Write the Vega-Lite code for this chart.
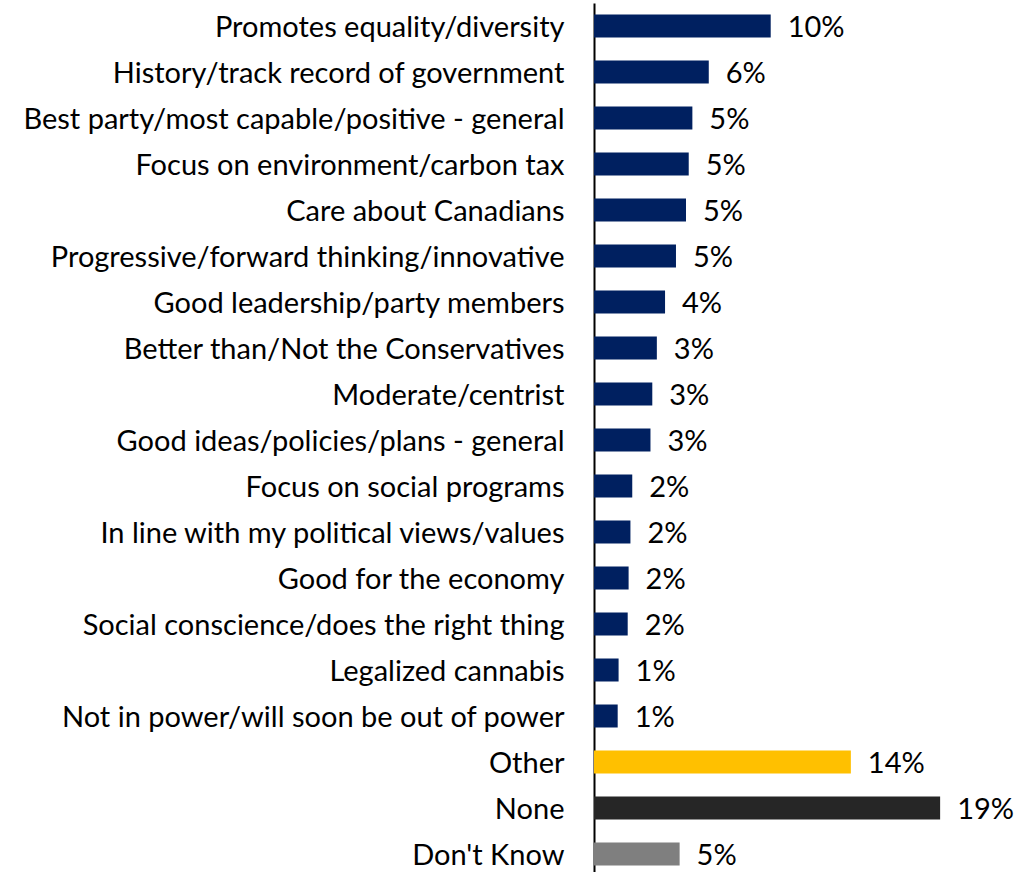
{
  "$schema": "https://vega.github.io/schema/vega-lite/v6.json",
  "width": 419,
  "height": 874,
  "autosize": {"type": "none"},
  "padding": {"left": 594, "top": 3, "right": 2, "bottom": 0},
  "background": "white",
  "config": {"view": {"stroke": null}, "font": "Lato"},
  "data": {"values": [
    {"cat": "Promotes equality/diversity", "v": 9.7, "label": "10%", "grp": "a"},
    {"cat": "History/track record of government", "v": 6.3, "label": "6%", "grp": "a"},
    {"cat": "Best party/most capable/positive - general", "v": 5.4, "label": "5%", "grp": "a"},
    {"cat": "Focus on environment/carbon tax", "v": 5.2, "label": "5%", "grp": "a"},
    {"cat": "Care about Canadians", "v": 5.05, "label": "5%", "grp": "a"},
    {"cat": "Progressive/forward thinking/innovative", "v": 4.5, "label": "5%", "grp": "a"},
    {"cat": "Good leadership/party members", "v": 3.9, "label": "4%", "grp": "a"},
    {"cat": "Better than/Not the Conservatives", "v": 3.45, "label": "3%", "grp": "a"},
    {"cat": "Moderate/centrist", "v": 3.2, "label": "3%", "grp": "a"},
    {"cat": "Good ideas/policies/plans - general", "v": 3.1, "label": "3%", "grp": "a"},
    {"cat": "Focus on social programs", "v": 2.1, "label": "2%", "grp": "a"},
    {"cat": "In line with my political views/values", "v": 2.0, "label": "2%", "grp": "a"},
    {"cat": "Good for the economy", "v": 1.9, "label": "2%", "grp": "a"},
    {"cat": "Social conscience/does the right thing", "v": 1.85, "label": "2%", "grp": "a"},
    {"cat": "Legalized cannabis", "v": 1.35, "label": "1%", "grp": "a"},
    {"cat": "Not in power/will soon be out of power", "v": 1.3, "label": "1%", "grp": "a"},
    {"cat": "Other", "v": 14.1, "label": "14%", "grp": "b"},
    {"cat": "None", "v": 19.0, "label": "19%", "grp": "c"},
    {"cat": "Don't Know", "v": 4.7, "label": "5%", "grp": "d"}
  ]},
  "encoding": {
    "y": {"field": "cat", "type": "nominal", "sort": null,
      "scale": {"paddingInner": 0.5, "paddingOuter": 0.25},
      "axis": {"title": null, "ticks": false, "labelFontSize": 29, "labelColor": "#000000", "labelPadding": 30, "labelOffset": 2, "labelLimit": 0, "domainColor": "#000000", "domainWidth": 2, "labelFont": "Lato"}},
    "x": {"field": "v", "type": "quantitative", "scale": {"domain": [0, 23], "nice": false}, "axis": null}
  },
  "layer": [
    {"mark": {"type": "bar"},
     "encoding": {"color": {"field": "grp", "type": "nominal", "legend": null,
       "scale": {"domain": ["a", "b", "c", "d"], "range": ["#002060", "#FFC000", "#262626", "#7F7F7F"]}}}},
    {"mark": {"type": "text", "align": "left", "baseline": "middle", "dx": 17, "dy": 2, "fontSize": 29, "color": "#000000", "font": "Lato"},
     "encoding": {"text": {"field": "label"}}}
  ]
}
